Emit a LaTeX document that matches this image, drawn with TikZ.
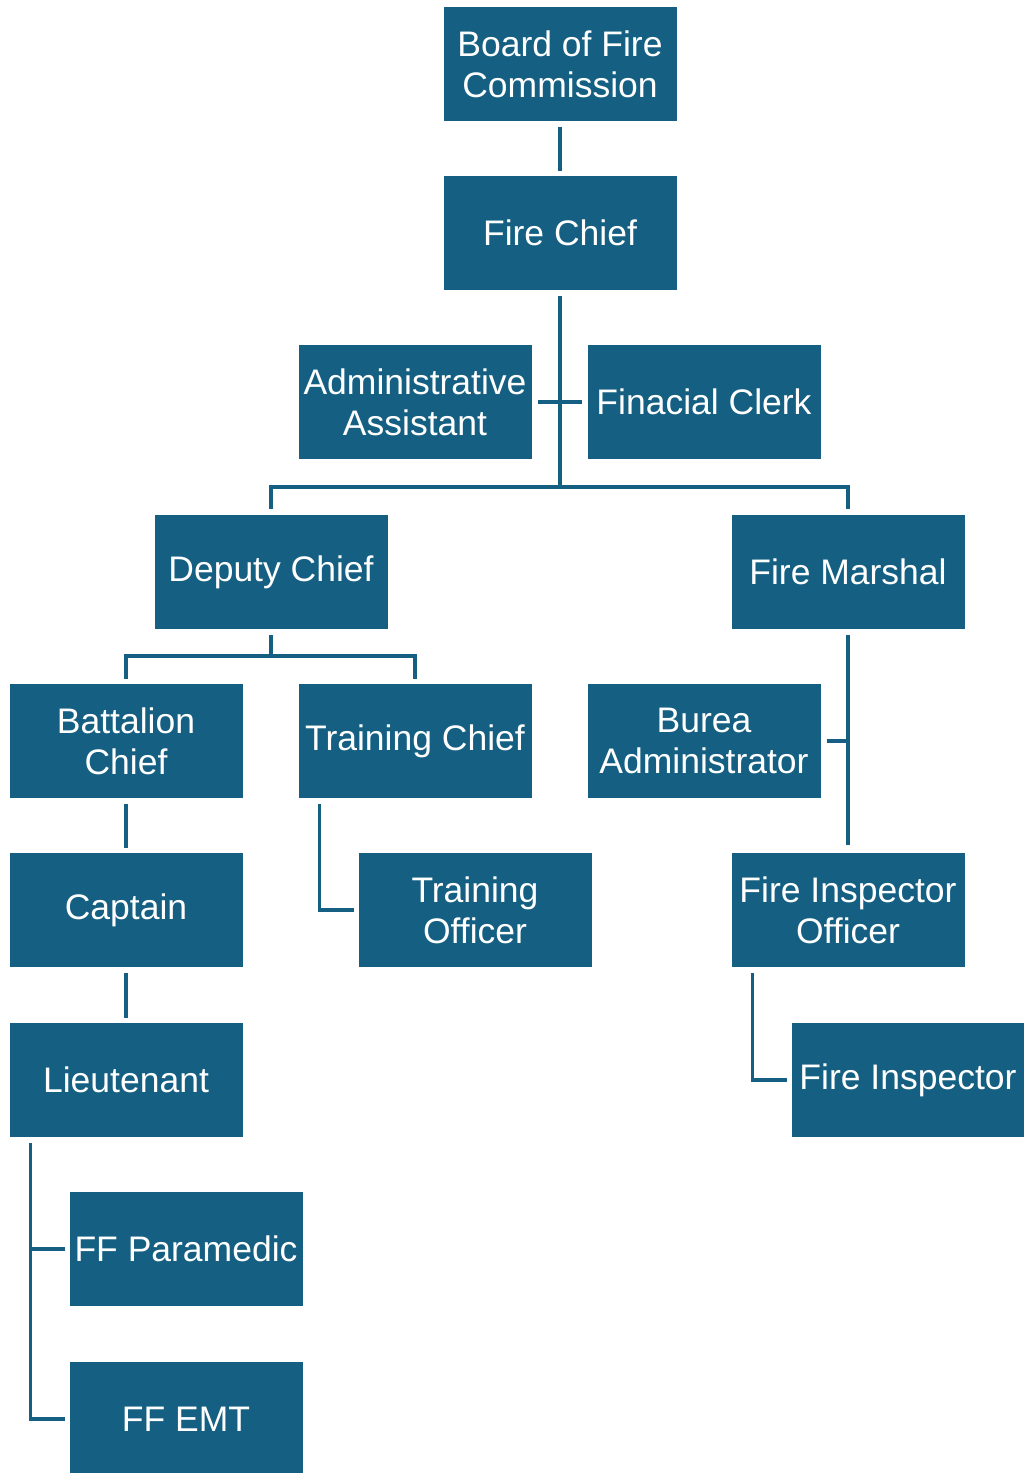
\documentclass[tikz,border=0pt]{standalone}
\usepackage{fontspec}
\setmainfont{Liberation Sans}
\definecolor{boxblue}{HTML}{156082}
\definecolor{linecol}{HTML}{156082}
\begin{document}
\begin{tikzpicture}[x=1pt,y=-1pt,
  orgbox/.style={rectangle, fill=boxblue, draw=white, line width=1pt,
    minimum width=234pt, minimum height=115pt, inner sep=0pt,
    text=white, align=center,
    font=\fontsize{35.5pt}{41pt}\selectfont},
  conn/.style={draw=linecol, line width=3.6pt}]
\useasboundingbox (0,0) rectangle (1024,1473);

\node[orgbox] (board)   at (560,64)   {Board of Fire\\Commission};
\node[orgbox] (chief)   at (560,233)  {Fire Chief};
\node[orgbox] (admin)   at (415,402)  {Administrative\\Assistant};
\node[orgbox] (fin)     at (704,402)  {Finacial Clerk};
\node[orgbox] (deputy)  at (271,572)  {Deputy Chief};
\node[orgbox] (marshal) at (848,572)  {Fire Marshal};
\node[orgbox] (batt)    at (126,741)  {Battalion\\Chief};
\node[orgbox] (tchief)  at (415,741)  {Training Chief};
\node[orgbox] (burea)   at (704,741)  {Burea\\Administrator};
\node[orgbox] (capt)    at (126,910)  {Captain};
\node[orgbox] (toff)    at (475,910)  {Training\\Officer};
\node[orgbox] (fio)     at (848,910)  {Fire Inspector\\Officer};
\node[orgbox] (lt)      at (126,1080) {Lieutenant};
\node[orgbox] (fi)      at (908,1080) {Fire Inspector};
\node[orgbox] (ffp)     at (186,1249) {FF Paramedic};
\node[orgbox] (ffe)     at (186,1419) {FF EMT};

\coordinate (b1) at (560,487);
\coordinate (b2) at (271,656);

% Board -> Chief
\draw[conn, shorten <=5pt, shorten >=4pt] (board) -- (chief);
% Chief -> bar
\draw[conn, shorten <=5pt] (chief.south) -- (b1);
\draw[conn, shorten >=5pt] (b1) -| (deputy.north);
\draw[conn, shorten >=5pt] (b1) -| (marshal.north);
% assistants
\draw[conn, shorten <=5pt, shorten >=5pt] (admin.east) -- (fin.west);
% Deputy
\draw[conn, shorten <=5pt] (deputy.south) -- (b2);
\draw[conn, shorten >=4pt] (b2) -| (batt.north);
\draw[conn, shorten >=4pt] (b2) -| (tchief.north);
% Battalion line
\draw[conn, shorten <=5pt, shorten >=4pt] (batt) -- (capt);
\draw[conn, shorten <=5pt, shorten >=4pt] (capt) -- (lt);
% Training
\draw[conn, shorten <=5pt, shorten >=4pt] ([xshift=22pt]tchief.south west) |- (toff.west);
% Marshal
\draw[conn, shorten <=5pt, shorten >=7pt] (marshal) -- (fio);
\draw[conn, shorten <=5pt] (burea.east) -- (burea.east -| marshal.south);
% Fire inspector
\draw[conn, shorten <=5pt, shorten >=4pt] ([xshift=22pt]fio.south west) |- (fi.west);
% Lieutenant
\draw[conn, shorten <=5pt, shorten >=4pt] ([xshift=22pt]lt.south west) |- (ffp.west);
\draw[conn, shorten <=5pt, shorten >=4pt] ([xshift=22pt]lt.south west) |- (ffe.west);
\end{tikzpicture}
\end{document}
